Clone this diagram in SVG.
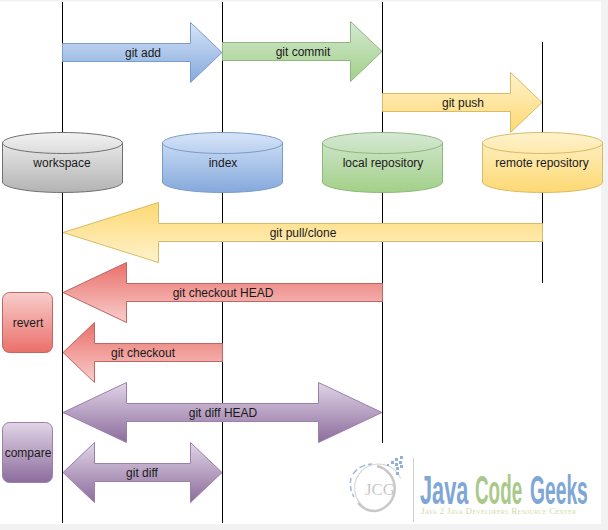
<svg xmlns="http://www.w3.org/2000/svg" width="608" height="530" viewBox="0 0 608 530">
<style>
text{font-family:"Liberation Sans",Arial,sans-serif;font-size:12px;fill:#1a1a1a;text-anchor:middle}
.ln{stroke:#000;stroke-width:1;fill:none}
.b{stroke:#7a9cc8}.g{stroke:#8fb87c}.y{stroke:#d8bb66}.r{stroke:#bf6662}.p{stroke:#9a80aa}.k{stroke:#707070}
.logo{font-size:41px;font-weight:bold;text-anchor:start}
</style>
<defs>
<linearGradient id="gb" x1="0" y1="0" x2="0" y2="1"><stop offset="0" stop-color="#d6e4f8"/><stop offset="1" stop-color="#85a9dc"/></linearGradient>
<linearGradient id="gg" x1="0" y1="0" x2="0" y2="1"><stop offset="0" stop-color="#d5e8d4"/><stop offset="1" stop-color="#a2d088"/></linearGradient>
<linearGradient id="gy" x1="0" y1="0" x2="0" y2="1"><stop offset="0" stop-color="#fff2cc"/><stop offset="1" stop-color="#fdd973"/></linearGradient>
<linearGradient id="gyf" x1="0" y1="1" x2="0" y2="0"><stop offset="0" stop-color="#fff2cc"/><stop offset="1" stop-color="#fdd973"/></linearGradient>
<linearGradient id="gr" x1="0" y1="0" x2="0" y2="1"><stop offset="0" stop-color="#f8cecc"/><stop offset="1" stop-color="#ea6f6a"/></linearGradient>
<linearGradient id="grf" x1="0" y1="1" x2="0" y2="0"><stop offset="0" stop-color="#f8cecc"/><stop offset="1" stop-color="#ea6f6a"/></linearGradient>
<linearGradient id="gp" x1="0" y1="0" x2="0" y2="1"><stop offset="0" stop-color="#e1d5e7"/><stop offset="1" stop-color="#8c6c9c"/></linearGradient>
<linearGradient id="gk" x1="0" y1="0" x2="0" y2="1"><stop offset="0" stop-color="#f2f2f2"/><stop offset="1" stop-color="#b3b3b3"/></linearGradient>
</defs>
<rect width="608" height="530" fill="#f2f2f2"/>
<rect x="0" y="1.500" width="601" height="522.500" fill="#fff"/>
<g id="lines">
<path class="ln" d="M62.500 2V523M222.500 2V523M382.500 2V443M542.500 42V283"/>
</g>
<g id="connectors">
<g id="git-add"><path class="b" fill="url(#gb)" d="M62.500 43.500H190.500V22.500L222 52.500L190.500 82.500V61.500H62.500Z"/><text x="143" y="57">git add</text></g>
<g id="git-commit"><path class="g" fill="url(#gg)" d="M222.500 42.500H350.500V21.500L382 51.500L350.500 81.500V60.500H222.500Z"/><text x="303" y="56">git commit</text></g>
<g id="git-push"><path class="y" fill="url(#gy)" d="M382.500 93.500H510.500V72.500L542 102.500L510.500 132.500V111.500H382.500Z"/><text x="463" y="107">git push</text></g>
<g id="git-pull"><path class="y" fill="url(#gyf)" d="M542.500 223.500H158.500V202.500L63 232.500L158.500 262.500V241.500H542.500Z"/><text x="303" y="237">git pull/clone</text></g>
<g id="git-checkout-head"><path class="r" fill="url(#grf)" d="M382.500 283.500H126.500V262.500L63 292.500L126.500 322.500V301.500H382.500Z"/><text x="223" y="297">git checkout HEAD</text></g>
<g id="git-checkout"><path class="r" fill="url(#grf)" d="M222.500 343.500H94.500V322.500L63 352.500L94.500 382.500V361.500H222.500Z"/><text x="143" y="357">git checkout</text></g>
<g id="git-diff-head"><path class="p" fill="url(#gp)" d="M63 412.500L126.500 382.500V403.500H318.500V382.500L382 412.500L318.500 442.500V421.500H126.500V442.500Z"/><text x="223" y="417">git diff HEAD</text></g>
<g id="git-diff"><path class="p" fill="url(#gp)" d="M63 472.500L94.500 442.500V463.500H190.500V442.500L222 472.500L190.500 502.500V481.500H94.500V502.500Z"/><text x="142" y="477">git diff</text></g>
</g>
<g id="workspace"><path class="k" fill="url(#gk)" d="M2.500 143C2.500 137.200 29.400 132.500 62.500 132.500S122.500 137.200 122.500 143V182C122.500 187.800 95.600 192.500 62.500 192.500S2.500 187.800 2.500 182Z"/><path class="k" fill="none" d="M2.500 143C2.500 148.800 29.400 153.500 62.500 153.500S122.500 148.800 122.500 143"/><text x="62" y="167">workspace</text></g>
<g id="index"><path class="b" fill="url(#gb)" d="M162.500 143C162.500 137.200 189.400 132.500 222.500 132.500S282.500 137.200 282.500 143V182C282.500 187.800 255.600 192.500 222.500 192.500S162.500 187.800 162.500 182Z"/><path class="b" fill="none" d="M162.500 143C162.500 148.800 189.400 153.500 222.500 153.500S282.500 148.800 282.500 143"/><text x="223" y="167">index</text></g>
<g id="local-repository"><path class="g" fill="url(#gg)" d="M322.500 143C322.500 137.200 349.400 132.500 382.500 132.500S442.500 137.200 442.500 143V182C442.500 187.800 415.600 192.500 382.500 192.500S322.500 187.800 322.500 182Z"/><path class="g" fill="none" d="M322.500 143C322.500 148.800 349.400 153.500 382.500 153.500S442.500 148.800 442.500 143"/><text x="383" y="167">local repository</text></g>
<g id="remote-repository"><path class="y" fill="url(#gy)" d="M482.500 143C482.500 137.200 509.400 132.500 542.500 132.500S602.500 137.200 602.500 143V182C602.500 187.800 575.600 192.500 542.500 192.500S482.500 187.800 482.500 182Z"/><path class="y" fill="none" d="M482.500 143C482.500 148.800 509.400 153.500 542.500 153.500S602.500 148.800 602.500 143"/><text x="542" y="167">remote repository</text></g>
<g id="revert"><rect class="r" fill="url(#gr)" x="2.500" y="292.500" width="50" height="60" rx="7"/><text x="28" y="327">revert</text></g>
<g id="compare"><rect class="p" fill="url(#gp)" x="2.500" y="422.500" width="50" height="60" rx="7"/><text x="28" y="457">compare</text></g>
<g id="logo">
<path d="M353 474A25 25 0 0 1 372 464" fill="none" stroke="#9dbbe0" stroke-width="1.500" stroke-dasharray="6 3"/>
<path d="M351 478A26 26 0 0 0 354 497" fill="none" stroke="#9dbbe0" stroke-width="1.500" stroke-dasharray="5 3"/>
<path d="M380 465A24 24 0 1 1 358 505" fill="none" stroke="#d2d2d2" stroke-width="1" transform="rotate(200 377 488)"/>
<path d="M377 466A23 23 0 0 1 376 511A22 22 0 0 1 358 503" fill="none" stroke="#c8c8c8" stroke-width="2.500"/>
<text x="380" y="495" textLength="30" lengthAdjust="spacingAndGlyphs" style="font-family:'Liberation Serif',serif;font-size:17px;fill:#c9c9c9">JCG</text>
<g fill="#8fb0d8"><rect x="391" y="461" width="3" height="3"/><rect x="395" y="463" width="3" height="3"/><rect x="399" y="461" width="3" height="3"/><rect x="395" y="458" width="3" height="3"/><rect x="400" y="456" width="3" height="3"/><rect x="396" y="467" width="3" height="3"/><rect x="400" y="465" width="3" height="3"/><rect x="396" y="472" width="3" height="3"/><rect x="387" y="464" width="2" height="2"/></g>
<path d="M413.500 458V522" stroke="#cfcfcf" fill="none"/>
<text class="logo" transform="translate(420 504) scale(.53 1)" style="fill:#7ea6d6">Java</text>
<text class="logo" transform="translate(475 504) scale(.46 1)" style="fill:#a9c98a">Code</text>
<text class="logo" transform="translate(530 504) scale(.47 1)" style="fill:#7ea6d6">Geeks</text>
<text x="421" y="514" style="font-family:'Liberation Serif',serif;font-size:9.200px;letter-spacing:.25px;font-variant:small-caps;fill:#cfdca8;text-anchor:start">Java 2 Java Developers Resource Center</text>
</g>
</svg>
